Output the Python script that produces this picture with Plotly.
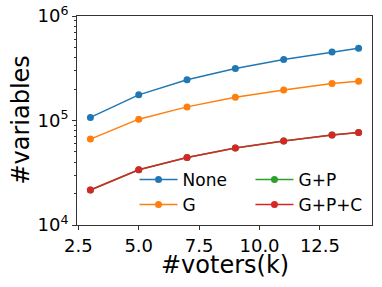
import plotly.graph_objects as go

voters_k = [3, 5, 7, 9, 11, 13, 14.1]
series_names = ["None", "G", "G+P", "G+P+C"]
vals_none = [1.07e5, 1.76e5, 2.45e5, 3.14e5, 3.83e5, 4.53e5, 4.91e5]
vals_g = [6.64e4, 1.03e5, 1.35e5, 1.67e5, 1.96e5, 2.26e5, 2.38e5]
vals_gp = [2.16e4, 3.38e4, 4.43e4, 5.45e4, 6.35e4, 7.26e4, 7.68e4]
vals_gpc = [2.16e4, 3.38e4, 4.43e4, 5.45e4, 6.35e4, 7.26e4, 7.68e4]
colors = ["#1f77b4", "#ff7f0e", "#2ca02c", "#d62728"]
legends = ["legend", "legend", "legend2", "legend2"]

x_title = "#voters(k)"
y_title = "#variables"
y_tickvals = [1e4, 1e5, 1e6]
y_ticktext = ["10<sup>4</sup>", "10<sup>5</sup>", "10<sup>6</sup>"]
x_tickvals = [2.5, 5.0, 7.5, 10.0, 12.5]
x_ticktext = ["2.5", "5.0", "7.5", "10.0", "12.5"]

minor_vals = [m * 10 ** e for e in (4, 5) for m in range(2, 10)]

fig = go.Figure()
for name, vals, col, lg in zip(series_names, [vals_none, vals_g, vals_gp, vals_gpc], colors, legends):
    fig.add_trace(go.Scatter(
        x=voters_k, y=vals, name=name, mode="lines+markers",
        line=dict(color=col, width=1.5),
        marker=dict(color=col, size=7),
        legend=lg,
    ))

font = "DejaVu Sans"
fig.update_layout(
    width=382, height=287,
    margin=dict(l=77, r=10, t=16, b=62, autoexpand=False),
    paper_bgcolor="white", plot_bgcolor="white",
    font=dict(family=font, color="black"),
    legend=dict(x=0.195, y=0.302, xanchor="left", yanchor="top",
                bgcolor="rgba(0,0,0,0)", font=dict(size=17), tracegroupgap=0,
                itemwidth=38),
    legend2=dict(x=0.588, y=0.302, xanchor="left", yanchor="top",
                 bgcolor="rgba(0,0,0,0)", font=dict(size=17), tracegroupgap=0,
                 itemwidth=38),
    annotations=[
        dict(text=x_title, xref="paper", yref="paper", x=0.5, y=-0.19,
             xanchor="center", yanchor="middle", showarrow=False,
             font=dict(size=24)),
        dict(text=y_title, xref="paper", yref="paper", x=-0.193, y=0.5,
             xanchor="center", yanchor="middle", showarrow=False, textangle=-90,
             font=dict(size=24)),
    ],
)
fig.update_xaxes(
    range=[2.445, 14.655], tickvals=x_tickvals, ticktext=x_ticktext,
    showgrid=False, zeroline=False, showline=True, mirror=True, automargin=False,
    linecolor="#333", linewidth=1, ticks="outside", ticklen=4, tickcolor="#333",
    tickfont=dict(size=18),
)
fig.update_yaxes(
    type="log", range=[4, 6], tickvals=y_tickvals, ticktext=y_ticktext,
    showgrid=False, zeroline=False, showline=True, mirror=True, automargin=False,
    linecolor="#333", linewidth=1, ticks="outside", ticklen=4, tickcolor="#333",
    tickfont=dict(size=18),
    minor=dict(tickvals=minor_vals, ticks="outside", ticklen=2, tickcolor="#333", showgrid=False),
)
fig.write_html("out.html", config={"displayModeBar": False},
               post_script="document.body.style.margin='0px';")
